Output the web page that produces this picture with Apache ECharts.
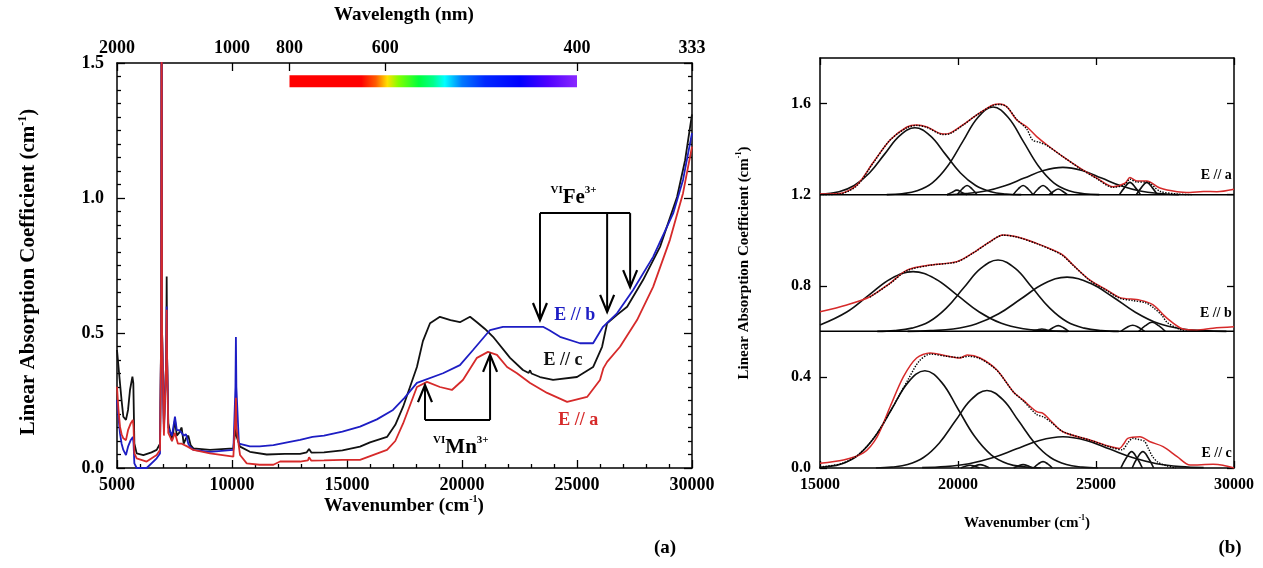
<!DOCTYPE html>
<html>
<head>
<meta charset="utf-8">
<script src="https://cdn.jsdelivr.net/npm/echarts@6/dist/echarts.min.js"></script>
<style>
  html, body { margin: 0; padding: 0; background: #fff; }
  #chart { width: 1263px; height: 568px; }
</style>
</head>
<body>
<div id="chart"></div>
<script>
const SERIF = '"Liberation Serif", "DejaVu Serif", serif';
const RED = '#d62a2a', BLUE = '#1d1dc4', BLACK = '#111111';

// ---- Panel (a): polarized absorption spectra, [wavenumber (cm-1), absorption (cm-1)] ----
const specC = [[5000,0.437],[5060,0.38],[5130,0.314],[5200,0.25],[5275,0.19],[5390,0.178],[5480,0.215],[5565,0.289],[5670,0.338],[5710,0.314],[5755,0.091],[5855,0.054],[6145,0.048],[6500,0.058],[6725,0.067],[6870,0.09],[6920,0.5],[6940,1.95],[6960,0.5],[7040,0.153],[7140,0.4],[7160,0.709],[7180,0.4],[7230,0.166],[7390,0.1],[7520,0.178],[7600,0.12],[7700,0.13],[7810,0.15],[7900,0.09],[8000,0.11],[8100,0.12],[8200,0.085],[8320,0.073],[9045,0.067],[10060,0.073],[10150,0.15],[10170,0.2],[10190,0.12],[10350,0.079],[10780,0.06],[11510,0.05],[12300,0.052],[12960,0.052],[13250,0.058],[13350,0.07],[13450,0.057],[14000,0.058],[14800,0.065],[15566,0.079],[16000,0.095],[16740,0.115],[17100,0.16],[17440,0.227],[18040,0.374],[18300,0.47],[18610,0.536],[19040,0.56],[19500,0.548],[19910,0.54],[20350,0.56],[20650,0.54],[21000,0.515],[21350,0.486],[22090,0.408],[22650,0.363],[22900,0.352],[22960,0.362],[23020,0.35],[23390,0.337],[23960,0.326],[25000,0.337],[25700,0.374],[26090,0.449],[26310,0.536],[26740,0.567],[27180,0.597],[27870,0.696],[28610,0.819],[29350,1.004],[29700,1.14],[30000,1.31]];
const specB = [[5000,0.252],[5060,0.19],[5130,0.128],[5200,0.09],[5275,0.067],[5390,0.048],[5480,0.079],[5600,0.104],[5690,0.115],[5720,0.09],[5755,0.017],[5855,0.0],[6290,0.0],[6725,0.036],[6870,0.054],[6920,0.5],[6940,1.95],[6960,0.5],[7040,0.14],[7140,0.4],[7160,0.598],[7180,0.4],[7230,0.15],[7390,0.12],[7520,0.19],[7600,0.14],[7700,0.14],[7810,0.13],[7900,0.12],[8000,0.125],[8100,0.09],[8170,0.08],[8320,0.067],[9045,0.06],[10060,0.067],[10150,0.3],[10170,0.485],[10190,0.3],[10300,0.09],[10780,0.08],[11200,0.08],[11800,0.085],[12400,0.095],[12960,0.104],[13500,0.115],[14000,0.12],[14800,0.135],[15566,0.153],[16300,0.18],[17000,0.215],[17500,0.26],[18040,0.315],[19175,0.351],[19910,0.381],[20480,0.437],[21220,0.511],[21780,0.523],[22600,0.523],[23520,0.523],[23800,0.51],[24260,0.486],[25130,0.462],[25700,0.462],[26130,0.523],[26740,0.573],[27440,0.659],[28310,0.782],[29180,0.943],[29610,1.067],[30000,1.24]];
const specA = [[5000,0.301],[5060,0.22],[5130,0.153],[5200,0.125],[5275,0.11],[5390,0.103],[5480,0.14],[5600,0.166],[5690,0.178],[5720,0.15],[5755,0.054],[5855,0.036],[6290,0.024],[6725,0.048],[6870,0.067],[6920,0.5],[6940,1.95],[6960,0.5],[7040,0.12],[7140,0.4],[7160,0.586],[7180,0.4],[7230,0.13],[7390,0.1],[7520,0.13],[7650,0.09],[7810,0.09],[8050,0.08],[8320,0.067],[9045,0.054],[10060,0.042],[10150,0.2],[10170,0.26],[10190,0.15],[10350,0.048],[10640,0.017],[11200,0.012],[11800,0.012],[12090,0.024],[12960,0.024],[13300,0.028],[13350,0.04],[13450,0.027],[14000,0.028],[14800,0.03],[15566,0.03],[16740,0.067],[17100,0.1],[17440,0.165],[18040,0.30],[18480,0.319],[19040,0.30],[19560,0.289],[20040,0.326],[20650,0.408],[21130,0.43],[21520,0.419],[21960,0.374],[22390,0.351],[22960,0.315],[23700,0.278],[24570,0.245],[25440,0.263],[26000,0.326],[26150,0.37],[26310,0.393],[26870,0.449],[27610,0.548],[28310,0.671],[29040,0.845],[29610,1.018],[30000,1.19]];

// top axis: wavelength ticks (nm) and visible-spectrum strip limits (nm)
const wavelengthTicks = [2000, 1000, 800, 600, 400, 333.3334];
const visibleStripNm = [800, 400];
const visibleStripY = [1.41, 1.455];

// assignment arrows: [wavenumber, bracket level, arrow tip]
const feArrows = [[23390, 0.944, 0.548], [26310, 0.944, 0.578], [27310, 0.944, 0.670]];
const mnArrows = [[18390, 0.178, 0.307], [21220, 0.178, 0.419]];
const feBracket = [[23390, 0.944], [27310, 0.944]];
const mnBracket = [[18390, 0.178], [21220, 0.178]];

// ---- Panel (b): band deconvolution, offset spectra ----
const panelBaselines = [0.6, 1.2];
const panelBTicks = [0, 0.4, 0.8, 1.2, 1.6];

const measA = [[15000,1.203],[15725,1.205],[16340,1.243],[16920,1.34],[17540,1.44],[18150,1.497],[18500,1.506],[18880,1.497],[19460,1.466],[19710,1.47],[20180,1.506],[20680,1.55],[21270,1.594],[21520,1.598],[21770,1.586],[22130,1.528],[22490,1.498],[22850,1.455],[23230,1.418],[23800,1.367],[24420,1.317],[25030,1.273],[25620,1.235],[26050,1.25],[26230,1.275],[26480,1.26],[26840,1.26],[27320,1.229],[27940,1.213],[28410,1.21],[28890,1.214],[29380,1.213],[30000,1.224]];
const fitA = [[15000,1.2],[15725,1.203],[16340,1.24],[16920,1.338],[17540,1.44],[18150,1.494],[18500,1.504],[18880,1.495],[19460,1.464],[19710,1.468],[20180,1.505],[20680,1.55],[21270,1.592],[21520,1.596],[21770,1.585],[22130,1.53],[22490,1.488],[22700,1.44],[22950,1.43],[23230,1.415],[23800,1.367],[24420,1.315],[25030,1.27],[25620,1.232],[26050,1.245],[26230,1.268],[26480,1.255],[26840,1.255],[27320,1.215],[27940,1.203],[28500,1.2]];
const bandsA = [
  [[15000,1.202],[15690,1.213],[16240,1.24],[16790,1.295],[17340,1.378],[17890,1.459],[18440,1.494],[18990,1.459],[19540,1.378],[20090,1.295],[20640,1.24],[21190,1.213],[21740,1.203],[22290,1.2]],
  [[17420,1.2],[17970,1.204],[18520,1.217],[19070,1.252],[19620,1.325],[20170,1.433],[20720,1.539],[21270,1.585],[21820,1.539],[22370,1.433],[22920,1.325],[23470,1.252],[24020,1.217],[24570,1.204],[25120,1.2]],
  [[19600,1.2],[20300,1.205],[21000,1.216],[21700,1.239],[22400,1.273],[23100,1.306],[23800,1.32],[24500,1.306],[25200,1.273],[25900,1.239],[26600,1.216],[27300,1.205],[28000,1.2]],
  [[19600,1.2],[19780,1.21],[19960,1.22],[20140,1.21],[20320,1.2]],
  [[19970,1.2],[20150,1.225],[20330,1.24],[20510,1.225],[20690,1.2]],
  [[22000,1.2],[22180,1.225],[22360,1.24],[22540,1.225],[22720,1.2]],
  [[22720,1.2],[22900,1.225],[23080,1.24],[23260,1.225],[23440,1.2]],
  [[23300,1.2],[23470,1.215],[23630,1.225],[23790,1.215],[23960,1.2]],
  [[25850,1.2],[26040,1.232],[26230,1.254],[26420,1.232],[26610,1.2]],
  [[26460,1.2],[26650,1.232],[26840,1.254],[27030,1.232],[27220,1.2]]
];

const measB = [[15000,0.686],[15970,0.716],[16810,0.752],[17540,0.812],[18150,0.869],[18990,0.891],[19960,0.906],[20540,0.944],[21160,0.994],[21630,1.023],[22130,1.015],[22850,0.986],[23440,0.957],[23800,0.935],[24170,0.891],[24780,0.825],[25400,0.781],[25870,0.748],[26590,0.737],[27070,0.716],[27570,0.658],[28150,0.61],[28650,0.605],[29240,0.614],[30000,0.62]];
const fitB = [[16810,0.75],[17540,0.81],[18150,0.866],[18990,0.89],[19960,0.905],[20540,0.943],[21160,0.993],[21630,1.022],[22130,1.014],[22850,0.985],[23440,0.955],[23800,0.932],[24170,0.89],[24780,0.823],[25400,0.778],[25870,0.745],[26330,0.735],[26800,0.725],[27070,0.705],[27400,0.668],[27570,0.64],[28000,0.61],[28300,0.6]];
const bandsB = [
  [[15000,0.628],[15970,0.685],[16770,0.759],[17570,0.831],[18370,0.862],[19170,0.831],[19970,0.759],[20770,0.685],[21570,0.635],[22370,0.611],[23170,0.603],[23970,0.6]],
  [[17075,0.6],[17700,0.603],[18325,0.614],[18950,0.642],[19575,0.702],[20200,0.79],[20825,0.876],[21450,0.913],[22075,0.876],[22700,0.79],[23325,0.702],[23950,0.642],[24575,0.614],[25200,0.603],[25825,0.6]],
  [[18175,0.6],[19000,0.603],[19825,0.61],[20650,0.632],[21475,0.677],[22300,0.744],[23125,0.81],[23950,0.838],[24775,0.812],[25600,0.752],[26425,0.684],[27250,0.635],[28075,0.611],[28900,0.603],[29725,0.6]],
  [[22700,0.6],[22870,0.606],[23040,0.61],[23210,0.606],[23380,0.6]],
  [[23250,0.6],[23440,0.616],[23630,0.625],[23820,0.616],[24010,0.6]],
  [[25900,0.6],[26110,0.617],[26330,0.627],[26550,0.617],[26760,0.6]],
  [[26550,0.6],[26790,0.625],[27030,0.64],[27270,0.625],[27510,0.6]]
];

const measC = [[15000,0.021],[15850,0.035],[16570,0.066],[17070,0.137],[17540,0.269],[18020,0.40],[18500,0.483],[18990,0.505],[19600,0.492],[20070,0.483],[20330,0.496],[20800,0.483],[21410,0.43],[22000,0.335],[22360,0.298],[22850,0.247],[23080,0.24],[23330,0.211],[23800,0.159],[24780,0.123],[25510,0.094],[25850,0.086],[26000,0.105],[26150,0.13],[26590,0.137],[26960,0.115],[27430,0.094],[27940,0.05],[28410,0.013],[29240,0.016],[29600,0.012],[30000,0.0]];
const fitC = [[15000,0.005],[15800,0.02],[16400,0.06],[17000,0.14],[17600,0.26],[18200,0.39],[18600,0.47],[19000,0.5],[19600,0.49],[20070,0.485],[20400,0.49],[20800,0.48],[21400,0.43],[22000,0.335],[22360,0.295],[22850,0.235],[23080,0.225],[23330,0.205],[23800,0.16],[24780,0.122],[25510,0.092],[25950,0.08],[26150,0.11],[26330,0.13],[26550,0.125],[26750,0.118],[26900,0.085],[27050,0.05],[27250,0.025],[27550,0.01],[27900,0.0]];
const bandsC = [
  [[14600,0],[15200,0.005],[15800,0.019],[16400,0.058],[17000,0.139],[17600,0.259],[18200,0.377],[18800,0.427],[19400,0.377],[20000,0.259],[20600,0.139],[21200,0.058],[21800,0.019],[22400,0.005],[23000,0]],
  [[17025,0],[17600,0.004],[18175,0.015],[18750,0.046],[19325,0.11],[19900,0.206],[20475,0.3],[21050,0.34],[21625,0.3],[22200,0.206],[22775,0.11],[23350,0.046],[23925,0.015],[24500,0.004],[25075,0]],
  [[18700,0.0015],[19550,0.006],[20400,0.019],[21250,0.045],[22100,0.083],[22950,0.121],[23800,0.137],[24650,0.121],[25500,0.083],[26350,0.045],[27200,0.019],[28050,0.006],[28900,0.0015]],
  [[20100,0],[20270,0.008],[20440,0.012],[20610,0.008],[20780,0]],
  [[20460,0],[20630,0.01],[20800,0.015],[20970,0.01],[21140,0]],
  [[22020,0],[22190,0.01],[22360,0.015],[22530,0.01],[22700,0]],
  [[22740,0],[22910,0.018],[23080,0.028],[23250,0.018],[23420,0]],
  [[25900,0],[26100,0.045],[26290,0.072],[26480,0.045],[26680,0]],
  [[26310,0],[26500,0.045],[26700,0.072],[26890,0.045],[27090,0]]
];

// minor tick positions for panel (a): every 1000 cm-1 and every 0.05 cm-1
const minorX = [], minorY = [];
for (let w = 6000; w < 30000; w += 1000) if (w % 5000) minorX.push(w);
for (let k = 1; k < 30; k++) if (k % 10) minorY.push(+(k * 0.05).toFixed(2));

// ---------------------------------------------------------------
const chart = echarts.init(document.getElementById('chart'), null, { renderer: 'canvas' });

const frameLine = { show: true, onZero: false, lineStyle: { color: '#000', width: 1.5 } };
const noLine = { show: false };
const tickStyle = { color: '#000', width: 1.3 };
const ticks = (len, values) => {
  const t = { show: true, inside: true, length: len, lineStyle: tickStyle };
  if (values) t.customValues = values;
  return t;
};
const boldLabel = (size, extra) => Object.assign({ fontFamily: SERIF, fontWeight: 'bold', fontSize: size, color: '#000' }, extra || {});

function line(data, color, width, xi, yi, extra) {
  return Object.assign({
    type: 'line', data: data, xAxisIndex: xi, yAxisIndex: yi,
    symbol: 'none', showSymbol: false, silent: true, animation: false,
    lineStyle: { color: color, width: width }, z: 3
  }, extra || {});
}

const series = [];
// panel (a) spectra
series.push(line(specC, BLACK, 1.8, 0, 0));
series.push(line(specB, BLUE, 1.8, 0, 0));
series.push(line(specA, RED, 1.8, 0, 0));
// brackets
series.push(line(feBracket, '#000', 2, 0, 0, { z: 5 }));
series.push(line(mnBracket, '#000', 2, 0, 0, { z: 5 }));
// arrows
series.push({
  type: 'custom', xAxisIndex: 0, yAxisIndex: 0, clip: false, silent: true, animation: false, z: 5,
  data: feArrows.concat(mnArrows),
  encode: { x: 0, y: [1, 2] },
  renderItem: function (params, api) {
    const p0 = api.coord([api.value(0), api.value(1)]);
    const p1 = api.coord([api.value(0), api.value(2)]);
    const dir = p1[1] > p0[1] ? 1 : -1;
    const hw = 7, hh = 17;
    return {
      type: 'group', children: [
        { type: 'line', shape: { x1: p0[0], y1: p0[1], x2: p1[0], y2: p1[1] }, style: { stroke: '#000', lineWidth: 2 } },
        { type: 'polyline', shape: { points: [[p1[0] - hw, p1[1] - dir * hh], [p1[0], p1[1]], [p1[0] + hw, p1[1] - dir * hh]] },
          style: { stroke: '#000', lineWidth: 2.2, fill: null } }
      ]
    };
  }
});

// panel (b)
panelBaselines.forEach(v => series.push(line([[15000, v], [30000, v]], '#000', 1.5, 2, 2, { z: 6 })));
[bandsA, bandsB, bandsC].forEach(group => group.forEach(b =>
  series.push(line(b, BLACK, 1.6, 2, 2, { smooth: 0.4, z: 3 }))));
[measA, measB, measC].forEach(m => series.push(line(m, RED, 1.5, 2, 2, { smooth: 0.3, z: 4 })));
[fitA, fitB, fitC].forEach(f => series.push(line(f, '#000', 1.5, 2, 2, { smooth: 0.3, z: 5, lineStyle: { color: '#000', width: 1.4, type: 'dotted' } })));

const plain = v => String(v);
const wnFromNm = wavelengthTicks.map(nm => Math.min(30000, 1e7 / nm));

const option = {
  backgroundColor: '#fff',
  animation: false,
  grid: [
    { left: 117, top: 63, width: 575, height: 405 },
    { left: 820, top: 58, width: 414, height: 410 }
  ],
  xAxis: [
    { gridIndex: 0, type: 'value', position: 'bottom', min: 5000, max: 30000, interval: 5000,
      axisLine: frameLine, splitLine: { show: false }, axisTick: ticks(8),
      axisLabel: boldLabel(18, { margin: 8, formatter: plain }) },
    { gridIndex: 0, type: 'value', position: 'top', min: 5000, max: 30000,
      axisLine: frameLine, splitLine: { show: false }, axisTick: ticks(8, wnFromNm),
      axisLabel: boldLabel(18, { margin: 6, customValues: wnFromNm, formatter: v => String(Math.round(1e7 / v)) }) },
    { gridIndex: 1, type: 'value', position: 'bottom', min: 15000, max: 30000, interval: 5000,
      axisLine: frameLine, splitLine: { show: false }, axisTick: ticks(7),
      axisLabel: boldLabel(16, { margin: 9, formatter: plain }) },
    { gridIndex: 1, type: 'value', position: 'top', min: 15000, max: 30000, interval: 5000,
      axisLine: frameLine, splitLine: { show: false }, axisTick: ticks(7),
      axisLabel: { show: false } },
    // minor ticks, panel (a) bottom
    { gridIndex: 0, type: 'value', position: 'bottom', min: 5000, max: 30000,
      axisLine: noLine, splitLine: { show: false }, axisTick: ticks(4, minorX), axisLabel: { show: false } }
  ],
  yAxis: [
    { gridIndex: 0, type: 'value', position: 'left', min: 0, max: 1.5, interval: 0.5,
      axisLine: frameLine, splitLine: { show: false }, axisTick: ticks(8),
      axisLabel: boldLabel(18, { margin: 13, formatter: v => v.toFixed(1) }) },
    { gridIndex: 0, type: 'value', position: 'right', min: 0, max: 1.5, interval: 0.5,
      axisLine: frameLine, splitLine: { show: false }, axisTick: ticks(8),
      axisLabel: { show: false } },
    { gridIndex: 1, type: 'value', position: 'left', min: 0, max: 1.8,
      axisLine: frameLine, splitLine: { show: false }, axisTick: ticks(7, panelBTicks),
      axisLabel: boldLabel(16, { margin: 9, customValues: panelBTicks, formatter: v => v.toFixed(1) }) },
    { gridIndex: 1, type: 'value', position: 'right', min: 0, max: 1.8,
      axisLine: frameLine, splitLine: { show: false }, axisTick: ticks(7, panelBTicks),
      axisLabel: { show: false } },
    // minor ticks, panel (a) left and right
    { gridIndex: 0, type: 'value', position: 'left', min: 0, max: 1.5,
      axisLine: noLine, splitLine: { show: false }, axisTick: ticks(4, minorY), axisLabel: { show: false } },
    { gridIndex: 0, type: 'value', position: 'right', min: 0, max: 1.5,
      axisLine: noLine, splitLine: { show: false }, axisTick: ticks(4, minorY), axisLabel: { show: false } }
  ],
  series: series
};
chart.setOption(option);

// ---- text and the visible-spectrum strip, placed from data coordinates ----
const toPx = (g, pt) => chart.convertToPixel({ gridIndex: g }, pt);
const font = (size) => 'bold ' + size + 'px ' + SERIF;
function txt(x, y, text, size, color, align) {
  return {
    type: 'text', x: x, y: y, z: 20, silent: true,
    style: { text: text, font: font(size), fill: color || '#000',
      align: align || 'center', verticalAlign: 'middle',
      textAlign: align || 'center', textVerticalAlign: 'middle' }
  };
}
function richTxt(x, y, text, rich, rotation) {
  return {
    type: 'text', x: x, y: y, z: 20, silent: true, rotation: rotation || 0,
    style: { text: text, rich: rich, fill: '#000', align: 'center', verticalAlign: 'middle',
      textAlign: 'center', textVerticalAlign: 'middle' }
  };
}
function titleRich(size) {
  const sup = Math.round(size * 0.55);
  return {
    t: { font: font(size), fill: '#000', lineHeight: size + 2, verticalAlign: 'bottom' },
    s: { font: font(sup), fill: '#000', lineHeight: sup + 1, verticalAlign: 'top' }
  };
}
const ionRich = {
  p: { font: font(11), fill: '#000', lineHeight: 12, verticalAlign: 'top' },
  m: { font: font(21), fill: '#000', lineHeight: 26 },
  s: { font: font(11), fill: '#000', lineHeight: 12, verticalAlign: 'top' }
};

const s0 = toPx(0, [1e7 / visibleStripNm[0], visibleStripY[1]]);
const s1 = toPx(0, [1e7 / visibleStripNm[1], visibleStripY[0]]);
const feLab = toPx(0, [24850, 1.0]);
const mnLab = toPx(0, [19950, 0.074]);
const labB = toPx(0, [24900, 0.567]);
const labC = toPx(0, [24390, 0.40]);
const labA = toPx(0, [25050, 0.178]);
const pA = toPx(1, [29920, 1.286]);
const pB = toPx(1, [29920, 0.68]);
const pC = toPx(1, [29920, 0.066]);

chart.setOption({
  graphic: [
    { type: 'rect', z: 10, silent: true,
      shape: { x: s0[0], y: s0[1], width: s1[0] - s0[0], height: s1[1] - s0[1] },
      style: { fill: { type: 'linear', x: 0, y: 0, x2: 1, y2: 0, colorStops: [
        { offset: 0, color: '#ff0000' }, { offset: 0.25, color: '#ff0000' },
        { offset: 0.3, color: '#ff5a00' }, { offset: 0.34, color: '#ffe000' },
        { offset: 0.38, color: '#80ff00' }, { offset: 0.45, color: '#00ff3c' },
        { offset: 0.5, color: '#00ff8c' }, { offset: 0.54, color: '#00ffff' },
        { offset: 0.6, color: '#0078ff' }, { offset: 0.68, color: '#0028ff' },
        { offset: 0.8, color: '#0000ff' }, { offset: 0.9, color: '#5000ff' },
        { offset: 1, color: '#8a28ff' } ] } } },
    richTxt(feLab[0], feLab[1], '{p|VI}{m|Fe}{s|3+}', ionRich),
    richTxt(mnLab[0], mnLab[1], '{p|VI}{m|Mn}{s|3+}', ionRich),
    txt(labB[0], labB[1], 'E // b', 18, BLUE),
    txt(labC[0], labC[1], 'E // c', 18, BLACK),
    txt(labA[0], labA[1], 'E // a', 18, RED),
    txt(pA[0], pA[1], 'E // a', 14, '#000', 'right'),
    txt(pB[0], pB[1], 'E // b', 14, '#000', 'right'),
    txt(pC[0], pC[1], 'E // c', 14, '#000', 'right'),
    txt(404, 15, 'Wavelength (nm)', 19),
    richTxt(404, 505, '{t|Wavenumber (cm}{s|-1}{t|)}', titleRich(19)),
    richTxt(28, 272, '{t|Linear Absorption Coefficient (cm}{s|-1}{t|)}', titleRich(21), Math.PI / 2),
    richTxt(1027, 522, '{t|Wavenumber (cm}{s|-1}{t|)}', titleRich(15)),
    richTxt(743, 263, '{t|Linear Absorption Coefficient (cm}{s|-1}{t|)}', titleRich(15), Math.PI / 2),
    txt(665, 548, '(a)', 19),
    txt(1230, 548, '(b)', 19)
  ]
});
</script>
</body>
</html>
